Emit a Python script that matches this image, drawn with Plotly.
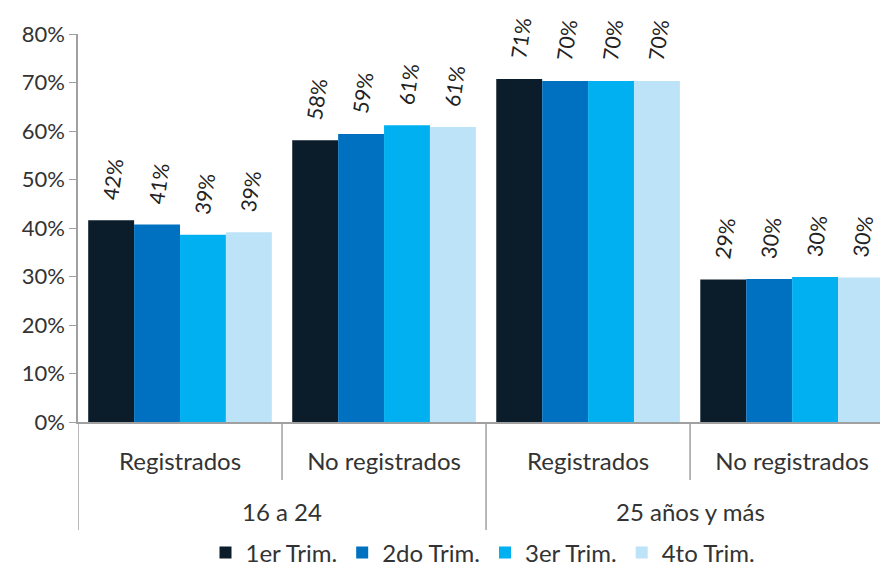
import plotly.graph_objects as go

groups = ["16 a 24", "16 a 24", "25 años y más", "25 años y más"]
subcats = ["Registrados", "No registrados", "Registrados", "No registrados"]
group_labels = ["16 a 24", "25 años y más"]
series_names = ["1er Trim.", "2do Trim.", "3er Trim.", "4to Trim."]
values = [
    [0.416, 0.581, 0.707, 0.294],
    [0.407, 0.594, 0.703, 0.295],
    [0.386, 0.612, 0.703, 0.299],
    [0.391, 0.608, 0.703, 0.298],
]
colors = ["#0b1d2b", "#0070c0", "#00b0f0", "#bde3f8"]

FONT = "Lato, Carlito, Calibri, sans-serif"
AXIS_GRAY = "#a0a0a0"

keys = [f"{g}|{s}" for g, s in zip(groups, subcats)]

fig = go.Figure()
for name, vals, col in zip(series_names, values, colors):
    fig.add_trace(go.Bar(
        x=keys, y=vals, name=name,
        marker=dict(color=col, line=dict(width=0)),
        texttemplate="\u00a0\u00a0\u00a0%{y:.0%}", textposition="outside",
        textangle=-82, cliponaxis=False, constraintext="none",
        textfont=dict(size=21, color="#222222", family=FONT),
    ))

plot_h = 388.0
# dividers below the category axis
for i, pos in enumerate([-0.5, 0.5, 1.5, 2.5]):
    depth = 108 if i % 2 == 0 else 58
    fig.add_shape(type="line", xref="x", yref="paper", x0=pos, x1=pos,
                  y0=0, y1=-depth / plot_h, line=dict(color=AXIS_GRAY, width=1.5))
# group labels
for gi, g in enumerate(group_labels):
    fig.add_annotation(x=gi * 2 + 0.5, xref="x", y=-89 / plot_h, yref="paper",
                       text=g, showarrow=False, yanchor="middle", xanchor="center",
                       font=dict(size=24, color="#333333", family=FONT))

fig.update_layout(
    width=888, height=577,
    barmode="group", bargap=0.1, bargroupgap=0,
    plot_bgcolor="white", paper_bgcolor="white",
    margin=dict(l=70, r=8, t=26, b=163),
    font=dict(family=FONT, size=24, color="#333333"),
    showlegend=True,
    legend=dict(orientation="h", x=0.5, xanchor="center", y=-131 / plot_h, yanchor="middle",
                font=dict(size=24, color="#333333"), itemwidth=30,
                traceorder="normal"),
)
fig.update_yaxes(range=[0, 0.8], dtick=0.1, tickformat=".0%", showgrid=False,
                 showline=True, linecolor=AXIS_GRAY, linewidth=1.5,
                 ticks="outside", ticklen=7, tickcolor=AXIS_GRAY,
                 tickfont=dict(size=22, color="#333333"), zeroline=False)
fig.update_xaxes(type="category", range=[-0.5, 3.47], showline=True,
                 linecolor=AXIS_GRAY, linewidth=1.5, ticks="",
                 tickvals=keys, ticktext=subcats, ticklabelstandoff=17,
                 tickfont=dict(size=24, color="#333333"))

fig.write_html("out.html")
